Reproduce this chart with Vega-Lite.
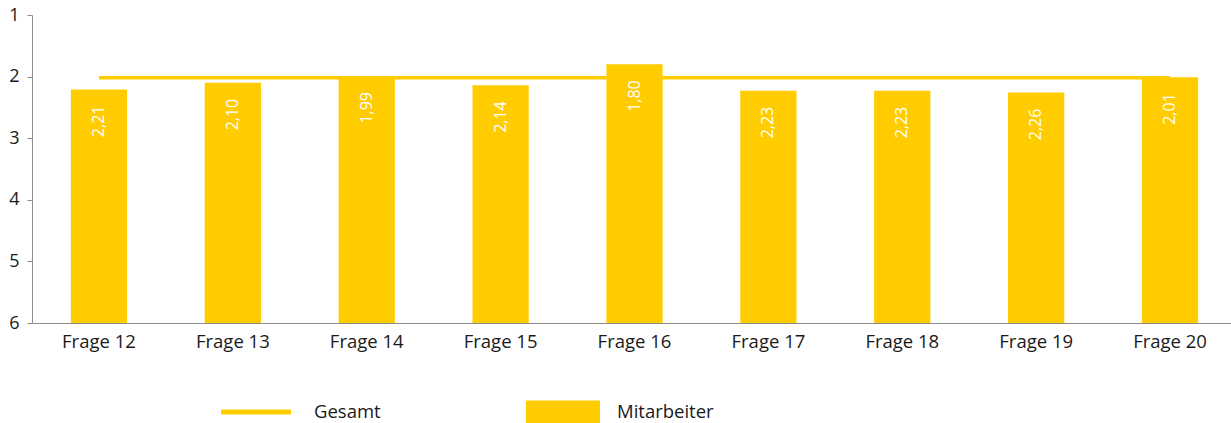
{
  "$schema": "https://vega.github.io/schema/vega-lite/v6.json",
  "autosize": {"type": "none"},
  "padding": {"left": 32, "top": 15, "right": 0, "bottom": 100},
  "width": 1205,
  "height": 308,
  "background": "white",
  "config": {"view": {"stroke": null}, "font": "Open Sans"},
  "data": {"values": [
    {"frage": "Frage 12", "mitarbeiter": 2.21, "label": "2,21", "gesamt": 2.02, "s1": "Gesamt", "s2": "Mitarbeiter"},
    {"frage": "Frage 13", "mitarbeiter": 2.10, "label": "2,10", "gesamt": 2.02, "s1": "Gesamt", "s2": "Mitarbeiter"},
    {"frage": "Frage 14", "mitarbeiter": 1.99, "label": "1,99", "gesamt": 2.02, "s1": "Gesamt", "s2": "Mitarbeiter"},
    {"frage": "Frage 15", "mitarbeiter": 2.14, "label": "2,14", "gesamt": 2.02, "s1": "Gesamt", "s2": "Mitarbeiter"},
    {"frage": "Frage 16", "mitarbeiter": 1.80, "label": "1,80", "gesamt": 2.02, "s1": "Gesamt", "s2": "Mitarbeiter"},
    {"frage": "Frage 17", "mitarbeiter": 2.23, "label": "2,23", "gesamt": 2.02, "s1": "Gesamt", "s2": "Mitarbeiter"},
    {"frage": "Frage 18", "mitarbeiter": 2.23, "label": "2,23", "gesamt": 2.02, "s1": "Gesamt", "s2": "Mitarbeiter"},
    {"frage": "Frage 19", "mitarbeiter": 2.26, "label": "2,26", "gesamt": 2.02, "s1": "Gesamt", "s2": "Mitarbeiter"},
    {"frage": "Frage 20", "mitarbeiter": 2.01, "label": "2,01", "gesamt": 2.02, "s1": "Gesamt", "s2": "Mitarbeiter"}
  ]},
  "encoding": {
    "x": {"field": "frage", "type": "nominal", "sort": null,
      "scale": {"paddingInner": 0.58, "paddingOuter": 0.29},
      "axis": {"title": null, "labelAngle": 0, "labelFontSize": 18.5, "labelColor": "#1a1a1a", "labelPadding": 9, "ticks": false, "domainColor": "#8c8c8c", "domainWidth": 1}}
  },
  "layer": [
    {
      "mark": {"type": "bar"},
      "encoding": {
        "y": {"field": "mitarbeiter", "type": "quantitative",
          "scale": {"domain": [1, 6], "reverse": true, "nice": false, "zero": false},
          "axis": {"title": null, "values": [1, 2, 3, 4, 5, 6], "format": "d", "grid": false, "labelFontSize": 18, "labelColor": "#1a1a1a", "labelPadding": 8, "tickSize": 5, "tickColor": "#8c8c8c", "domainColor": "#8c8c8c", "labelFlush": false}},
        "y2": {"datum": 6},
        "fill": {"field": "s2", "type": "nominal",
          "scale": {"domain": ["Mitarbeiter"], "range": ["#ffcc00"]},
          "legend": {"title": null, "orient": "none", "legendX": 494, "legendY": 360, "padding": 0,
            "symbolType": "M-1,-0.31H1V0.31H-1Z", "symbolSize": 5476, "symbolStrokeWidth": 0, "symbolOpacity": 1,
            "labelFontSize": 18.5, "labelColor": "#1a1a1a", "labelOffset": 17}}
      }
    },
    {
      "mark": {"type": "line", "strokeWidth": 3.5},
      "encoding": {
        "y": {"field": "gesamt", "type": "quantitative"},
        "stroke": {"field": "s1", "type": "nominal",
          "scale": {"domain": ["Gesamt"], "range": ["#ffcc00"]},
          "legend": {"title": null, "orient": "none", "legendX": 189, "legendY": 362, "padding": 0,
            "symbolType": "M-1,-0.07H1V0.07H-1Z", "symbolSize": 4900, "symbolStrokeWidth": 0, "symbolFillColor": "#ffcc00",
            "labelFontSize": 18.5, "labelColor": "#1a1a1a", "labelOffset": 23}}
      }
    },
    {
      "mark": {"type": "text", "angle": -90, "align": "right", "baseline": "middle", "dx": -16, "color": "white", "fontSize": 16},
      "encoding": {
        "y": {"field": "mitarbeiter", "type": "quantitative"},
        "text": {"field": "label"}
      }
    }
  ]
}
